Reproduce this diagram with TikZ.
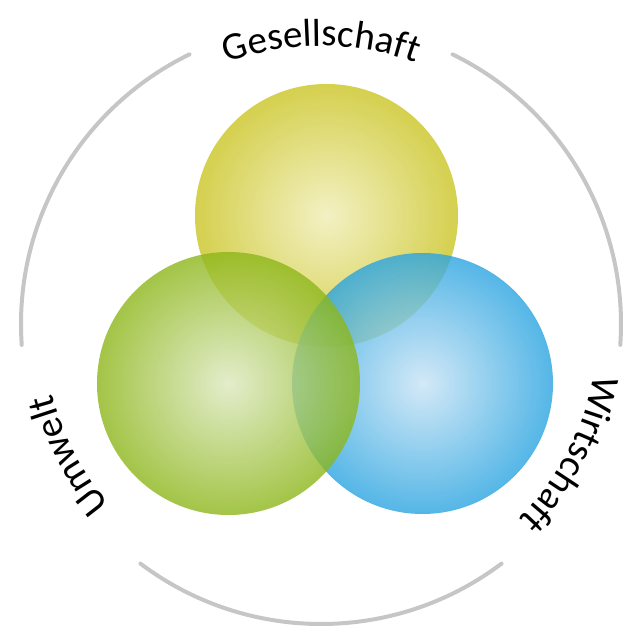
\documentclass[tikz,border=0pt]{standalone}
\usepackage{fontspec}
\setmainfont{Carlito}
\usetikzlibrary{decorations.text}

\definecolor{gesOuter}{HTML}{CAC422}
\definecolor{gesInner}{HTML}{F0EDB5}
\definecolor{umwOuter}{HTML}{8CB619}
\definecolor{umwInner}{HTML}{DCE8BE}
\definecolor{wirOuter}{HTML}{2AA4E0}
\definecolor{wirInner}{HTML}{C8E3F5}
\definecolor{ringgray}{HTML}{C6C6C6}

\newcommand\ringfont{\fontsize{19.5}{20}\selectfont}

\begin{document}
\begin{tikzpicture}[x=0.5pt, y=0.5pt,
      bubble/.style={circle, inner sep=0pt, outer sep=0pt, fill opacity=0.8},
      ring/.style={line width=2pt, ringgray, line cap=round},
      ringlabel/.style={decorate, decoration={text along path, text align=center,
                        text={|\ringfont|#1}}}]
    \useasboundingbox (-321,-307) rectangle (316,324);
    % --- the three spheres ---
    \node[bubble, minimum size=131.5pt, inner color=gesInner, outer color=gesOuter] (ges) at (5.5,108.5) {};
    \node[bubble, minimum size=130.5pt, inner color=wirInner, outer color=wirOuter] (wir) at (101.5,-59.5) {};
    \node[bubble, minimum size=131.5pt, inner color=umwInner, outer color=umwOuter] (umw) at (-92.5,-59.5) {};
    % --- outer ring, open where the labels sit ---
    \draw[ring] (116:300) arc[start angle=116, end angle=184, radius=300];
    \draw[ring] (64:300) arc[start angle=64, end angle=-4, radius=300];
    \draw[ring] (233:300) arc[start angle=233, end angle=307, radius=300];
    % --- labels along the ring ---
    \path[ringlabel=Gesellschaft] (118:278) arc[start angle=118, end angle=62, radius=278];
    \path[ringlabel=Umwelt] (237.5:278) arc[start angle=237.5, end angle=177.5, radius=278];
    \path[ringlabel=Wirtschaft] (2.5:278) arc[start angle=2.5, end angle=-57.5, radius=278];
\end{tikzpicture}
\end{document}
